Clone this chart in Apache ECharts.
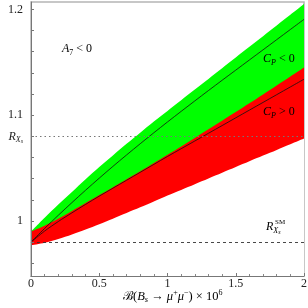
<!DOCTYPE html>
<html>
<head>
<meta charset="utf-8">
<script src="https://cdn.jsdelivr.net/npm/echarts@6/dist/echarts.min.js"></script>
<style>html,body{margin:0;padding:0;background:#fff}#c{width:308px;height:308px}</style>
</head>
<body>
<div id="c"></div>
<script>
// x values: branching ratio B(Bs->mu mu) x 10^6
const xs = [0, 0.1, 0.2, 0.3, 0.4, 0.5, 0.6, 0.7, 0.8, 0.9, 1.0, 1.1, 1.2, 1.3, 1.4, 1.5, 1.6, 1.7, 1.8, 1.9, 2.0];
// C_P < 0 band (green)
const greenUpper = [0.990, 1.003, 1.0155, 1.0275, 1.0395, 1.051, 1.062, 1.073, 1.0835, 1.094, 1.104, 1.1141, 1.1242, 1.1343, 1.1444, 1.1545, 1.1646, 1.1747, 1.1848, 1.1949, 1.205];
const greenCentral = [0.980, 0.993, 1.0054, 1.0174, 1.0291, 1.0405, 1.0516, 1.0624, 1.0730, 1.0834, 1.0936, 1.1036, 1.1135, 1.1233, 1.1330, 1.1426, 1.1522, 1.1618, 1.1714, 1.1810, 1.1906];
// C_P > 0 band (red)
const redUpper = [0.990, 0.9955, 1.002, 1.0095, 1.017, 1.0245, 1.032, 1.0395, 1.047, 1.0548, 1.0626, 1.0705, 1.0785, 1.0866, 1.0948, 1.103, 1.1113, 1.1196, 1.128, 1.1365, 1.145];
const redCentral = [0.980, 0.9905, 0.9995, 1.0077, 1.0157, 1.0235, 1.031, 1.0385, 1.046, 1.0535, 1.061, 1.0683, 1.0756, 1.0829, 1.0902, 1.0975, 1.1048, 1.1121, 1.1194, 1.1267, 1.134];
const redLower = [0.977, 0.9795, 0.983, 0.9873, 0.992, 0.997, 1.0022, 1.0075, 1.0129, 1.0184, 1.024, 1.0294, 1.0348, 1.0402, 1.0456, 1.051, 1.0564, 1.0618, 1.0672, 1.0726, 1.078];
// reference lines
const rXsValue = 1.08;
const rXsSM = 0.981;
// ticks / labels
const yLabelValues = [1, 1.1, 1.2];
const yMinorTicks = [0.96, 0.98, 1.0, 1.02, 1.04, 1.06, 1.08, 1.1, 1.12, 1.14, 1.16, 1.18, 1.2];

const FONT = 'Liberation Serif';
const pair = (ys) => xs.map((x, i) => [x, ys[i]]);

const chart = echarts.init(document.getElementById('c'), null, {renderer: 'canvas'});
const rich = {
  i: {fontFamily: FONT, fontStyle: 'italic', fontSize: 12, color: '#222', lineHeight: 16},
  n: {fontFamily: FONT, fontSize: 12, color: '#222', lineHeight: 16},
  sub: {fontFamily: FONT, fontStyle: 'italic', fontSize: 8, color: '#222', verticalAlign: 'bottom', lineHeight: 16},
  subn: {fontFamily: FONT, fontSize: 8, color: '#222', verticalAlign: 'bottom', lineHeight: 16},
  subsub: {fontFamily: FONT, fontStyle: 'italic', fontSize: 6, color: '#222', verticalAlign: 'bottom', lineHeight: 13},
  sup: {fontFamily: FONT, fontSize: 7, color: '#222', verticalAlign: 'top', lineHeight: 16},
  ti: {fontFamily: FONT, fontStyle: 'italic', fontSize: 12.5, color: '#222', lineHeight: 15},
  tn: {fontFamily: FONT, fontSize: 12.5, color: '#222', lineHeight: 15},
  tsub: {fontFamily: FONT, fontStyle: 'italic', fontSize: 8.5, color: '#222', verticalAlign: 'bottom', lineHeight: 15},
  tsup: {fontFamily: FONT, fontSize: 8, color: '#222', verticalAlign: 'top', lineHeight: 15}
};

function band(ys, color, z) {
  return {type: 'line', data: pair(ys), symbol: 'none', smooth: 0.3, silent: true, z: z,
    lineStyle: {width: 0, opacity: 0},
    areaStyle: {color: color, opacity: 1, origin: 'start'}};
}

const option = {
  animation: false,
  grid: {left: 31, right: 4, top: 2, bottom: 32, show: true, borderColor: '#b5b5b5', borderWidth: 1.5,
    containLabel: false, outerBoundsMode: 'none'},
  xAxis: {
    type: 'value', min: 0, max: 2, interval: 0.5, z: 10,
    axisLine: {show: true, lineStyle: {color: '#777', width: 1}},
    axisTick: {show: true, inside: true, length: 3, lineStyle: {color: '#777'}},
    minorTick: {show: true, splitNumber: 5, length: 2, lineStyle: {color: '#888'}},
    splitLine: {show: false},
    axisLabel: {fontFamily: FONT, fontSize: 12, color: '#222', margin: 2,
      formatter: v => String(v)}
  },
  yAxis: {
    type: 'value', min: 0.948, max: 1.207, z: 10,
    axisLine: {show: true, lineStyle: {color: '#777', width: 1}},
    axisTick: {show: true, inside: true, length: 3, customValues: yMinorTicks, lineStyle: {color: '#777'}},
    splitLine: {show: false},
    axisLabel: {
      customValues: yLabelValues.concat([rXsValue]), margin: 8,
      fontFamily: FONT, fontSize: 12, color: '#222',
      formatter: v => {
        if (Math.abs(v - rXsValue) < 1e-6) return '{i|R}{sub|X}{subsub|s}';
        return Math.abs(v - 1) < 1e-6 ? '{n|1}' : '{n|' + v.toFixed(1) + '}';
      },
      rich: rich
    }
  },
  series: [
    band(greenUpper, '#00ff00', 1),
    band(redUpper, '#ff0000', 2),
    band(redLower, '#ffffff', 3),
    {type: 'line', data: pair(greenCentral), symbol: 'none', smooth: 0.3,
      lineStyle: {color: '#111', width: 0.8}, z: 4, silent: true},
    {type: 'line', data: pair(redCentral), symbol: 'none', smooth: 0.3,
      lineStyle: {color: '#111', width: 0.8}, z: 4, silent: true,
      markLine: {
        silent: true, symbol: 'none', label: {show: false}, z: 6,
        data: [
          {yAxis: rXsValue, lineStyle: {type: [1.5, 3], color: '#777', width: 1}},
          {yAxis: rXsSM, lineStyle: {type: [3, 3], color: '#333', width: 0.9}}
        ]
      }}
  ],
  graphic: [
    {type: 'text', left: 62, top: 43, z: 10,
      style: {text: '{i|A}{subn|7}{n| < 0}', rich: rich}},
    {type: 'text', left: 263, top: 53, z: 10,
      style: {text: '{i|C}{sub|P}{n| < 0}', rich: rich}},
    {type: 'text', left: 263, top: 106, z: 10,
      style: {text: '{i|C}{sub|P}{n| > 0}', rich: rich}},
    {type: 'text', left: 266, top: 221, z: 10,
      style: {text: '{i|R}{sub|X}{subsub|s}', rich: rich}},
    {type: 'text', left: 275, top: 219, z: 10,
      style: {text: '{sup|SM}', rich: rich}},
    {type: 'text', left: 123, top: 289, z: 10,
      style: {text: '{tn|ℬ(}{ti|B}{tsub|s}{tn| → }{ti|μ}{tsup|+}{ti|μ}{tsup|−}{tn|) × 10}{tsup|6}', rich: rich}}
  ]
};
chart.setOption(option);
</script>
</body>
</html>
